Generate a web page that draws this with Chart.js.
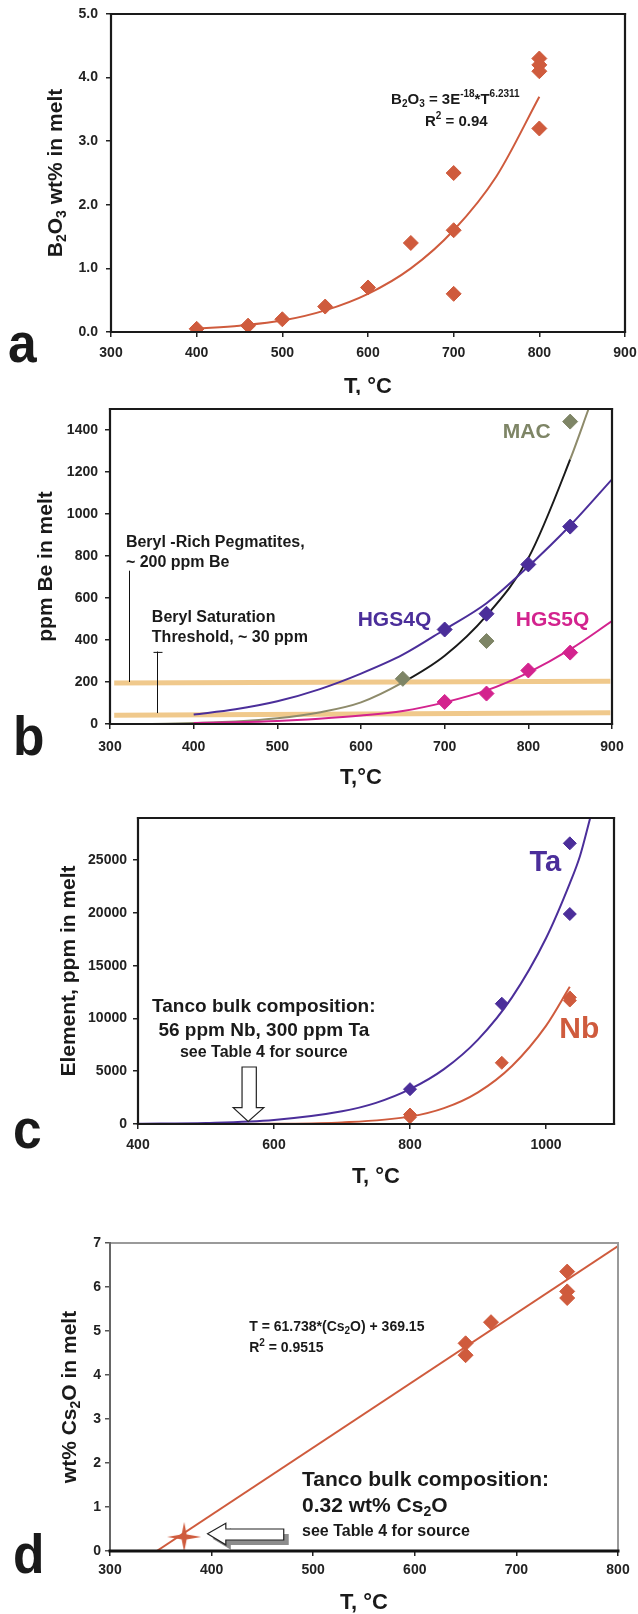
<!DOCTYPE html>
<html>
<head>
<meta charset="utf-8">
<script src="https://cdn.jsdelivr.net/npm/chart.js@4/dist/chart.umd.min.js"></script>
<style>
html, body { margin: 0; padding: 0; background: #fff; }
#wrap { position: relative; width: 638px; height: 1614px; }
canvas { position: absolute; left: 0; }
</style>
</head>
<body>
<div id="wrap">
  <canvas id="figA" width="638" height="395" style="top:0px"></canvas>
  <canvas id="figB" width="638" height="395" style="top:395px"></canvas>
  <canvas id="figC" width="638" height="400" style="top:790px"></canvas>
  <canvas id="figD" width="638" height="424" style="top:1190px"></canvas>
</div>
<script>
// ---- panel a : B2O3 in melt vs T
const aXRange = [300, 900], aYRange = [0, 5];
const aXTicks = [300, 400, 500, 600, 700, 800, 900];
const aYTicks = [0, 1, 2, 3, 4, 5];
const aTemp = [400, 460, 500, 550, 600, 650, 700, 700, 700, 800, 800, 800, 800];
const aB2O3 = [0.05, 0.1, 0.2, 0.4, 0.7, 1.4, 2.5, 1.6, 0.6, 4.3, 4.2, 4.1, 3.2];
const aFitTemp = [400, 450, 500, 550, 600, 650, 700, 750, 800];
const aFitB2O3 = [0.05, 0.1, 0.18, 0.34, 0.6, 1.0, 1.6, 2.45, 3.7];

// ---- panel b : Be in melt
const bXRange = [300, 900], bYRange = [0, 1500];
const bXTicks = [300, 400, 500, 600, 700, 800, 900];
const bYTicks = [0, 200, 400, 600, 800, 1000, 1200, 1400];
const bHgs4qTemp = [700, 750, 800, 850];
const bHgs4qBe = [450, 525, 760, 940];
const bHgs5qTemp = [700, 750, 800, 850];
const bHgs5qBe = [105, 145, 255, 340];
const bMacTemp = [650, 750, 850];
const bMacBe = [215, 395, 1440];
const bFitTemp = [400, 450, 500, 550, 600, 650, 700, 750, 800, 850, 900];
const bHgs4qFit = [45, 70, 108, 165, 240, 330, 450, 575, 750, 945, 1165];
const bHgs5qFit = [5, 8, 14, 25, 40, 62, 103, 160, 245, 355, 490];
const bMacFitTemp = [350, 400, 450, 500, 550, 600, 650, 700, 750, 800, 850, 872];
const bMacFit = [0, 5, 12, 27, 55, 103, 198, 325, 516, 790, 1260, 1500];
const bMacDarkFrom = 650, bMacDarkTo = 850;   // part of the MAC curve drawn black
const bBandTemp = [305, 898];
const bPegmatiteBe = [195, 203];
const bSaturationBe = [42, 53];

// ---- panel c : Ta, Nb in melt
const cXRange = [400, 1100], cYRange = [0, 29000];
const cXTicks = [400, 600, 800, 1000];
const cYTicks = [0, 5000, 10000, 15000, 20000, 25000];
const cTaTemp = [800, 935, 1035, 1035];
const cTa = [3300, 11400, 26600, 19900];
const cNbTemp = [800, 800, 935, 1035, 1035];
const cNb = [900, 650, 5800, 12000, 11700];
const cTaFitTemp = [400, 500, 600, 700, 750, 800, 850, 900, 950, 1000, 1035, 1050, 1065];
const cTaFit = [20, 100, 380, 1200, 2000, 3300, 5200, 8000, 12000, 17600, 22800, 25400, 29000];
const cNbFitTemp = [400, 500, 600, 700, 800, 850, 900, 950, 1000, 1035];
const cNbFit = [0, 5, 25, 150, 700, 1500, 3000, 5500, 9300, 13000];

// ---- panel d : Cs2O in melt
const dXRange = [300, 800], dYRange = [0, 7];
const dXTicks = [300, 400, 500, 600, 700, 800];
const dYTicks = [0, 1, 2, 3, 4, 5, 6, 7];
const dTemp = [650, 650, 675, 750, 750, 750];
const dCs2O = [4.72, 4.45, 5.2, 6.35, 5.9, 5.75];
const dFitTemp = [346, 800];
const dFitCs2O = [0, 6.93];
const dTancoTemp = [373];
const dTancoCs2O = [0.32];

const RED = '#cf5b3d', PURPLE = '#4b2e9a', MAGENTA = '#d3238e';
const OLIVE = '#7e8566', OLIVE_LINE = '#8e8b6b', BEIGE = '#f0c98c';
const SANS = "'Liberation Sans', Arial, sans-serif";

// rich text: _{sub} and ^{sup}
function parts(str) {
  const out = [], re = /([_^])\{([^}]*)\}/g;
  let last = 0, m;
  while ((m = re.exec(str))) {
    if (m.index > last) out.push({ t: str.slice(last, m.index), k: '' });
    out.push({ t: m[2], k: m[1] });
    last = re.lastIndex;
  }
  if (last < str.length) out.push({ t: str.slice(last), k: '' });
  return out;
}
function rich(ctx, str, x, y, size, color, align) {
  const ps = parts(str), small = Math.round(size * 0.68);
  let w = 0;
  ps.forEach(p => { ctx.font = 'bold ' + (p.k ? small : size) + 'px ' + SANS; p.w = ctx.measureText(p.t).width; w += p.w; });
  let cx = align === 'center' ? x - w / 2 : align === 'right' ? x - w : x;
  ctx.fillStyle = color; ctx.textBaseline = 'middle'; ctx.textAlign = 'left';
  ps.forEach(p => {
    ctx.font = 'bold ' + (p.k ? small : size) + 'px ' + SANS;
    const dy = p.k === '_' ? size * 0.28 : p.k === '^' ? -size * 0.36 : 0;
    ctx.fillText(p.t, cx, y + dy);
    cx += p.w;
  });
}

function decor(d) {
  return {
    id: 'decor',
    afterDatasetsDraw(chart) {
      const ctx = chart.ctx, a = chart.chartArea, sx = chart.scales.x, sy = chart.scales.y;
      const px = v => sx.getPixelForValue(v), py = v => sy.getPixelForValue(v);
      ctx.save();
      (d.leaders || []).forEach(l => {
        ctx.strokeStyle = '#111'; ctx.lineWidth = 1; ctx.beginPath();
        ctx.moveTo(Math.round(px(l[0])) + 0.5, py(l[1])); ctx.lineTo(Math.round(px(l[2])) + 0.5, py(l[3])); ctx.stroke();
      });
      (d.arrows || []).forEach(ar => {
        const path = () => { ctx.beginPath(); ar.pts.forEach((p, i) => ctx[i ? 'lineTo' : 'moveTo'](px(p[0]), py(p[1]))); ctx.closePath(); };
        if (ar.shadow) { ctx.save(); ctx.translate(ar.shadow[0], ar.shadow[1]); path(); ctx.fillStyle = '#8c8c8c'; ctx.fill(); ctx.restore(); }
        path(); ctx.fillStyle = '#fff'; ctx.fill(); ctx.strokeStyle = '#222'; ctx.lineWidth = 1.2; ctx.stroke();
      });
      // plot frame
      const f = d.frame;
      ctx.lineCap = 'square';
      const side = (c, x1, y1, x2, y2) => { ctx.strokeStyle = c[0]; ctx.lineWidth = c[1]; ctx.beginPath(); ctx.moveTo(x1, y1); ctx.lineTo(x2, y2); ctx.stroke(); };
      side(f.top, a.left, a.top, a.right, a.top);
      side(f.right, a.right, a.top, a.right, a.bottom);
      side(f.left, a.left, a.top, a.left, a.bottom);
      side(f.bottom, a.left, a.bottom, a.right, a.bottom);
      (d.notes || []).forEach(n => rich(ctx, n.text, px(n.x), py(n.y), n.size, n.color || '#1a1a1a', n.align || 'left'));
      // axis titles
      rich(ctx, d.xTitle, (a.left + a.right) / 2, d.xTitleY, 22, '#1a1a1a', 'center');
      ctx.save();
      ctx.translate(d.yTitleX, (a.top + a.bottom) / 2);
      ctx.rotate(-Math.PI / 2);
      rich(ctx, d.yTitle, 0, 0, 21, '#1a1a1a', 'center');
      ctx.restore();
      // panel letter
      ctx.save();
      ctx.translate(d.letter[1], d.letter[2]);
      ctx.scale(0.92, 1);
      ctx.font = 'bold 56px ' + SANS; ctx.fillStyle = '#1a1a1a';
      ctx.textBaseline = 'alphabetic'; ctx.textAlign = 'left';
      ctx.fillText(d.letter[0], 0, 0);
      ctx.restore();
      ctx.restore();
    }
  };
}

const pts = (xs, ys) => xs.map((x, i) => ({ x: x, y: ys[i] }));
const dots = (xs, ys, color, r) => ({ data: pts(xs, ys), showLine: false, pointStyle: 'rectRot', pointRadius: r, backgroundColor: color, borderColor: color, borderWidth: 1 });
const curve = (xs, ys, color, w) => ({ data: pts(xs, ys), showLine: true, pointRadius: 0, borderColor: color, borderWidth: w, cubicInterpolationMode: 'monotone', fill: false });
const straight = (xs, ys, color, w) => ({ data: pts(xs, ys), showLine: true, pointRadius: 0, borderColor: color, borderWidth: w, tension: 0, fill: false });

function axis(range, tickList, lab, pad, fit, color) {
  return {
    type: 'linear', min: range[0], max: range[1], afterFit: fit,
    afterBuildTicks: s => { s.ticks = tickList.map(v => ({ value: v })); },
    ticks: { padding: pad, color: '#222', font: { family: SANS, weight: 'bold', size: 14 }, callback: lab },
    grid: { drawOnChartArea: false, drawTicks: true, tickLength: 5, lineWidth: 1.5, color: color || '#222' },
    border: { display: false }
  };
}

function makeChart(id, box, xs, ys, datasets, deco) {
  const xFit = s => { s.height = box.xh; s.paddingLeft = 0; s.paddingRight = 0; };
  const yFit = s => { s.width = box.left; s.paddingTop = 0; s.paddingBottom = 0; };
  return new Chart(document.getElementById(id), {
    type: 'scatter',
    data: { datasets: datasets },
    options: {
      responsive: false, animation: false, devicePixelRatio: 1,
      layout: { padding: { left: 0, top: box.top, right: box.right, bottom: 0 } },
      plugins: { legend: { display: false }, tooltip: { enabled: false } },
      scales: {
        x: axis(xs.range, xs.ticks, xs.lab, xs.pad, xFit, xs.color),
        y: axis(ys.range, ys.ticks, ys.lab, ys.pad, yFit, ys.color)
      }
    },
    plugins: [decor(deco)]
  });
}

const plain = v => String(v);
const black = ['#1a1a1a', 2.2];

// chart a
makeChart('figA', { top: 14, right: 13, left: 111, xh: 63 },
  { range: aXRange, ticks: aXTicks, lab: plain, pad: 8 },
  { range: aYRange, ticks: aYTicks, lab: v => v.toFixed(1), pad: 8 },
  [
    dots(aTemp, aB2O3, RED, 7.5),
    curve(aFitTemp, aFitB2O3, RED, 2)
  ],
  {
    frame: { top: black, right: black, bottom: black, left: black },
    notes: [
      { x: 702, y: 3.65, text: 'B_{2}O_{3} = 3E^{-18}*T^{6.2311}', size: 15, align: 'center' },
      { x: 703, y: 3.31, text: 'R^{2} = 0.94', size: 15, align: 'center' }
    ],
    xTitle: 'T, °C', xTitleY: 387, yTitle: 'B_{2}O_{3} wt% in melt', yTitleX: 56, letter: ['a', 8, 362]
  });

// chart b
const macCurve = curve(bMacFitTemp, bMacFit, OLIVE_LINE, 2);
macCurve.segment = {
  borderColor: c => (c.p0.parsed.x >= bMacDarkFrom && c.p1.parsed.x <= bMacDarkTo) ? '#1a1a1a' : undefined
};
makeChart('figB', { top: 14, right: 26, left: 110, xh: 66 },
  { range: bXRange, ticks: bXTicks, lab: plain, pad: 10 },
  { range: bYRange, ticks: bYTicks, lab: plain, pad: 7 },
  [
    dots(bHgs4qTemp, bHgs4qBe, PURPLE, 7.5),
    dots(bHgs5qTemp, bHgs5qBe, MAGENTA, 7.5),
    dots(bMacTemp, bMacBe, OLIVE, 7.5),
    curve(bFitTemp, bHgs4qFit, PURPLE, 2),
    curve(bFitTemp, bHgs5qFit, MAGENTA, 2),
    macCurve,
    straight(bBandTemp, bPegmatiteBe, BEIGE, 5),
    straight(bBandTemp, bSaturationBe, BEIGE, 5)
  ],
  {
    frame: { top: black, right: black, bottom: black, left: black },
    leaders: [[323, 200, 323, 730], [356, 52, 356, 345], [351, 341, 362, 341]],
    notes: [
      { x: 319, y: 865, text: 'Beryl -Rich Pegmatites,', size: 16 },
      { x: 319, y: 770, text: '~ 200 ppm Be', size: 16 },
      { x: 350, y: 506, text: 'Beryl Saturation', size: 16 },
      { x: 350, y: 411, text: 'Threshold, ~ 30 ppm', size: 16 },
      { x: 798, y: 1389, text: 'MAC', size: 21, color: OLIVE, align: 'center' },
      { x: 640, y: 495, text: 'HGS4Q', size: 21, color: PURPLE, align: 'center' },
      { x: 829, y: 495, text: 'HGS5Q', size: 21, color: MAGENTA, align: 'center' }
    ],
    xTitle: 'T,°C', xTitleY: 383, yTitle: 'ppm Be in melt', yTitleX: 46, letter: ['b', 13, 360]
  });

// chart c
makeChart('figC', { top: 28, right: 24, left: 138, xh: 66 },
  { range: cXRange, ticks: cXTicks, lab: plain, pad: 8 },
  { range: cYRange, ticks: cYTicks, lab: plain, pad: 6 },
  [
    dots(cTaTemp, cTa, PURPLE, 6.5),
    dots(cNbTemp, cNb, RED, 6.5),
    curve(cTaFitTemp, cTaFit, PURPLE, 2),
    curve(cNbFitTemp, cNbFit, RED, 2)
  ],
  {
    frame: { top: black, right: black, bottom: black, left: black },
    arrows: [{ pts: [[553, 5400], [574, 5400], [574, 1550], [585, 1550], [562, 250], [540, 1550], [553, 1550]] }],
    notes: [
      { x: 585, y: 11100, text: 'Tanco bulk composition:', size: 19, align: 'center' },
      { x: 585, y: 8880, text: '56 ppm Nb, 300 ppm Ta', size: 19, align: 'center' },
      { x: 585, y: 6800, text: 'see Table 4 for source', size: 16, align: 'center' },
      { x: 999, y: 24700, text: 'Ta', size: 29, color: PURPLE, align: 'center' },
      { x: 1049, y: 8950, text: 'Nb', size: 30, color: RED, align: 'center' }
    ],
    xTitle: 'T, °C', xTitleY: 387, yTitle: 'Element, ppm in melt', yTitleX: 69, letter: ['c', 13, 358]
  });

// 4-point star marker for Tanco bulk composition
const star = document.createElement('canvas');
star.width = 34; star.height = 30;
const sc = star.getContext('2d');
sc.fillStyle = RED;
sc.beginPath();
sc.moveTo(17, 0); sc.lineTo(19.5, 12.5); sc.lineTo(34, 15); sc.lineTo(19.5, 17.5);
sc.lineTo(17, 30); sc.lineTo(14.5, 17.5); sc.lineTo(0, 15); sc.lineTo(14.5, 12.5);
sc.closePath(); sc.fill();

// chart d
makeChart('figD', { top: 53, right: 20, left: 110, xh: 63 },
  { range: dXRange, ticks: dXTicks, lab: plain, pad: 6 },
  { range: dYRange, ticks: dYTicks, lab: plain, pad: 4, color: '#555' },
  [
    Object.assign(dots(dTancoTemp, dTancoCs2O, RED, 10), { pointStyle: star }),
    dots(dTemp, dCs2O, RED, 7.5),
    straight(dFitTemp, dFitCs2O, RED, 2)
  ],
  {
    frame: { top: ['#9a9a9a', 2], right: ['#9a9a9a', 2], left: ['#666', 2], bottom: ['#111', 3] },
    arrows: [{ shadow: [5, 5], pts: [[396, 0.39], [414, 0.63], [414, 0.5], [471, 0.5], [471, 0.25], [414, 0.25], [414, 0.14]] }],
    notes: [
      { x: 437, y: 5.08, text: 'T = 61.738*(Cs_{2}O) + 369.15', size: 14 },
      { x: 437, y: 4.6, text: 'R^{2} = 0.9515', size: 14 },
      { x: 489, y: 1.6, text: 'Tanco bulk composition:', size: 21 },
      { x: 489, y: 1.01, text: '0.32 wt% Cs_{2}O', size: 21 },
      { x: 489, y: 0.44, text: 'see Table 4 for source', size: 16 }
    ],
    xTitle: 'T, °C', xTitleY: 413, yTitle: 'wt% Cs_{2}O in melt', yTitleX: 70, letter: ['d', 13, 383]
  });
</script>
</body>
</html>
